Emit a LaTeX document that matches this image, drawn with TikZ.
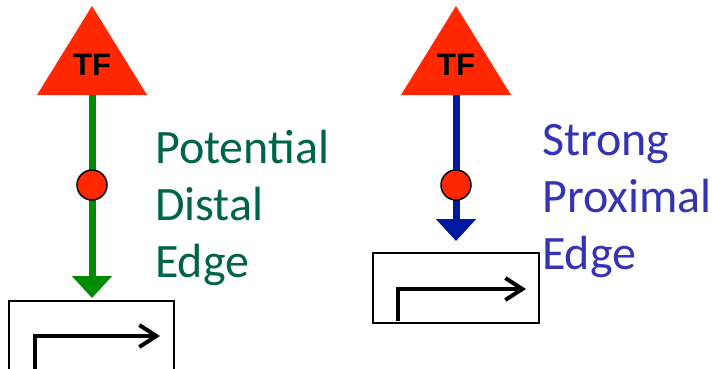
\documentclass[tikz,border=0pt]{standalone}
\usepackage{fontspec}
\setmainfont{Carlito}
\newfontfamily\tffont{Liberation Sans}
\usetikzlibrary{arrows.meta}
\definecolor{tfred}{RGB}{255,40,0}
\definecolor{edgegreen}{RGB}{0,140,0}
\definecolor{edgeblue}{RGB}{0,25,160}
\definecolor{txtgreen}{RGB}{0,100,75}
\definecolor{txtblue}{RGB}{51,51,180}
\begin{document}
\begin{tikzpicture}[x=1pt,y=-1pt,
  tfshape/.style={fill=tfred},
  tflabel/.style={font=\tffont\bfseries\fontsize{31}{31}\selectfont, inner sep=0pt},
  bindsite/.style={circle, fill=tfred, draw=black, line width=1.5pt, minimum size=30pt, inner sep=0pt},
  genebox/.style={draw=black, line width=2pt, inner sep=0pt, anchor=north west},
  promoter/.style={line width=4pt, -{Straight Barb[length=17pt,width=22pt]}},
  edgearrow/.style={line width=7pt, -{Triangle[length=22pt,width=39pt]}},
  lbl/.style={font=\fontsize{48}{58}\selectfont, inner sep=0pt, anchor=base west}
]
\useasboundingbox (0,0) rectangle (712,368);
\fill[white] (0,0) rectangle (712,368);

% ---------- left: potential distal edge ----------
\path[tfshape] (92,6) -- (147,95) -- (37,95) -- cycle;
\node[tflabel, anchor=base] (tf1) at (92,75) {TF};
\coordinate (base1) at (92,95);
\node[genebox, minimum width=165pt, minimum height=80pt] (gene1) at (8,300) {};
\draw[edgegreen, edgearrow, shorten >=2pt] (base1) -- (base1 |- gene1.north);
\node[bindsite] (site1) at (92,185) {};
\coordinate (p1start) at (35,370);
\coordinate (p1end) at (160,336);
\draw[promoter] (p1start) |- (p1end);
\node[lbl, text=txtgreen] (t1a) at (155,163) {Potential};
\node[lbl, text=txtgreen] (t1b) at (155,220) {Distal};
\node[lbl, text=txtgreen] (t1c) at (155,277) {Edge};

% ---------- right: strong proximal edge ----------
\path[tfshape] (456,6) -- (511,95) -- (401,95) -- cycle;
\node[tflabel, anchor=base] (tf2) at (456,75) {TF};
\coordinate (base2) at (456,95);
\node[genebox, minimum width=166pt, minimum height=70pt] (gene2) at (372,252) {};
\draw[edgeblue, edgearrow, shorten >=11pt] (base2) -- (base2 |- gene2.north);
\node[bindsite] (site2) at (456,185) {};
\coordinate (p2start) at (398,321);
\coordinate (p2end) at (526,289);
\draw[promoter] (p2start) |- (p2end);
\node[lbl, text=txtblue] (t2a) at (542,155) {Strong};
\node[lbl, text=txtblue] (t2b) at (542,212) {Proximal};
\node[lbl, text=txtblue] (t2c) at (542,269) {Edge};
\end{tikzpicture}
\end{document}
